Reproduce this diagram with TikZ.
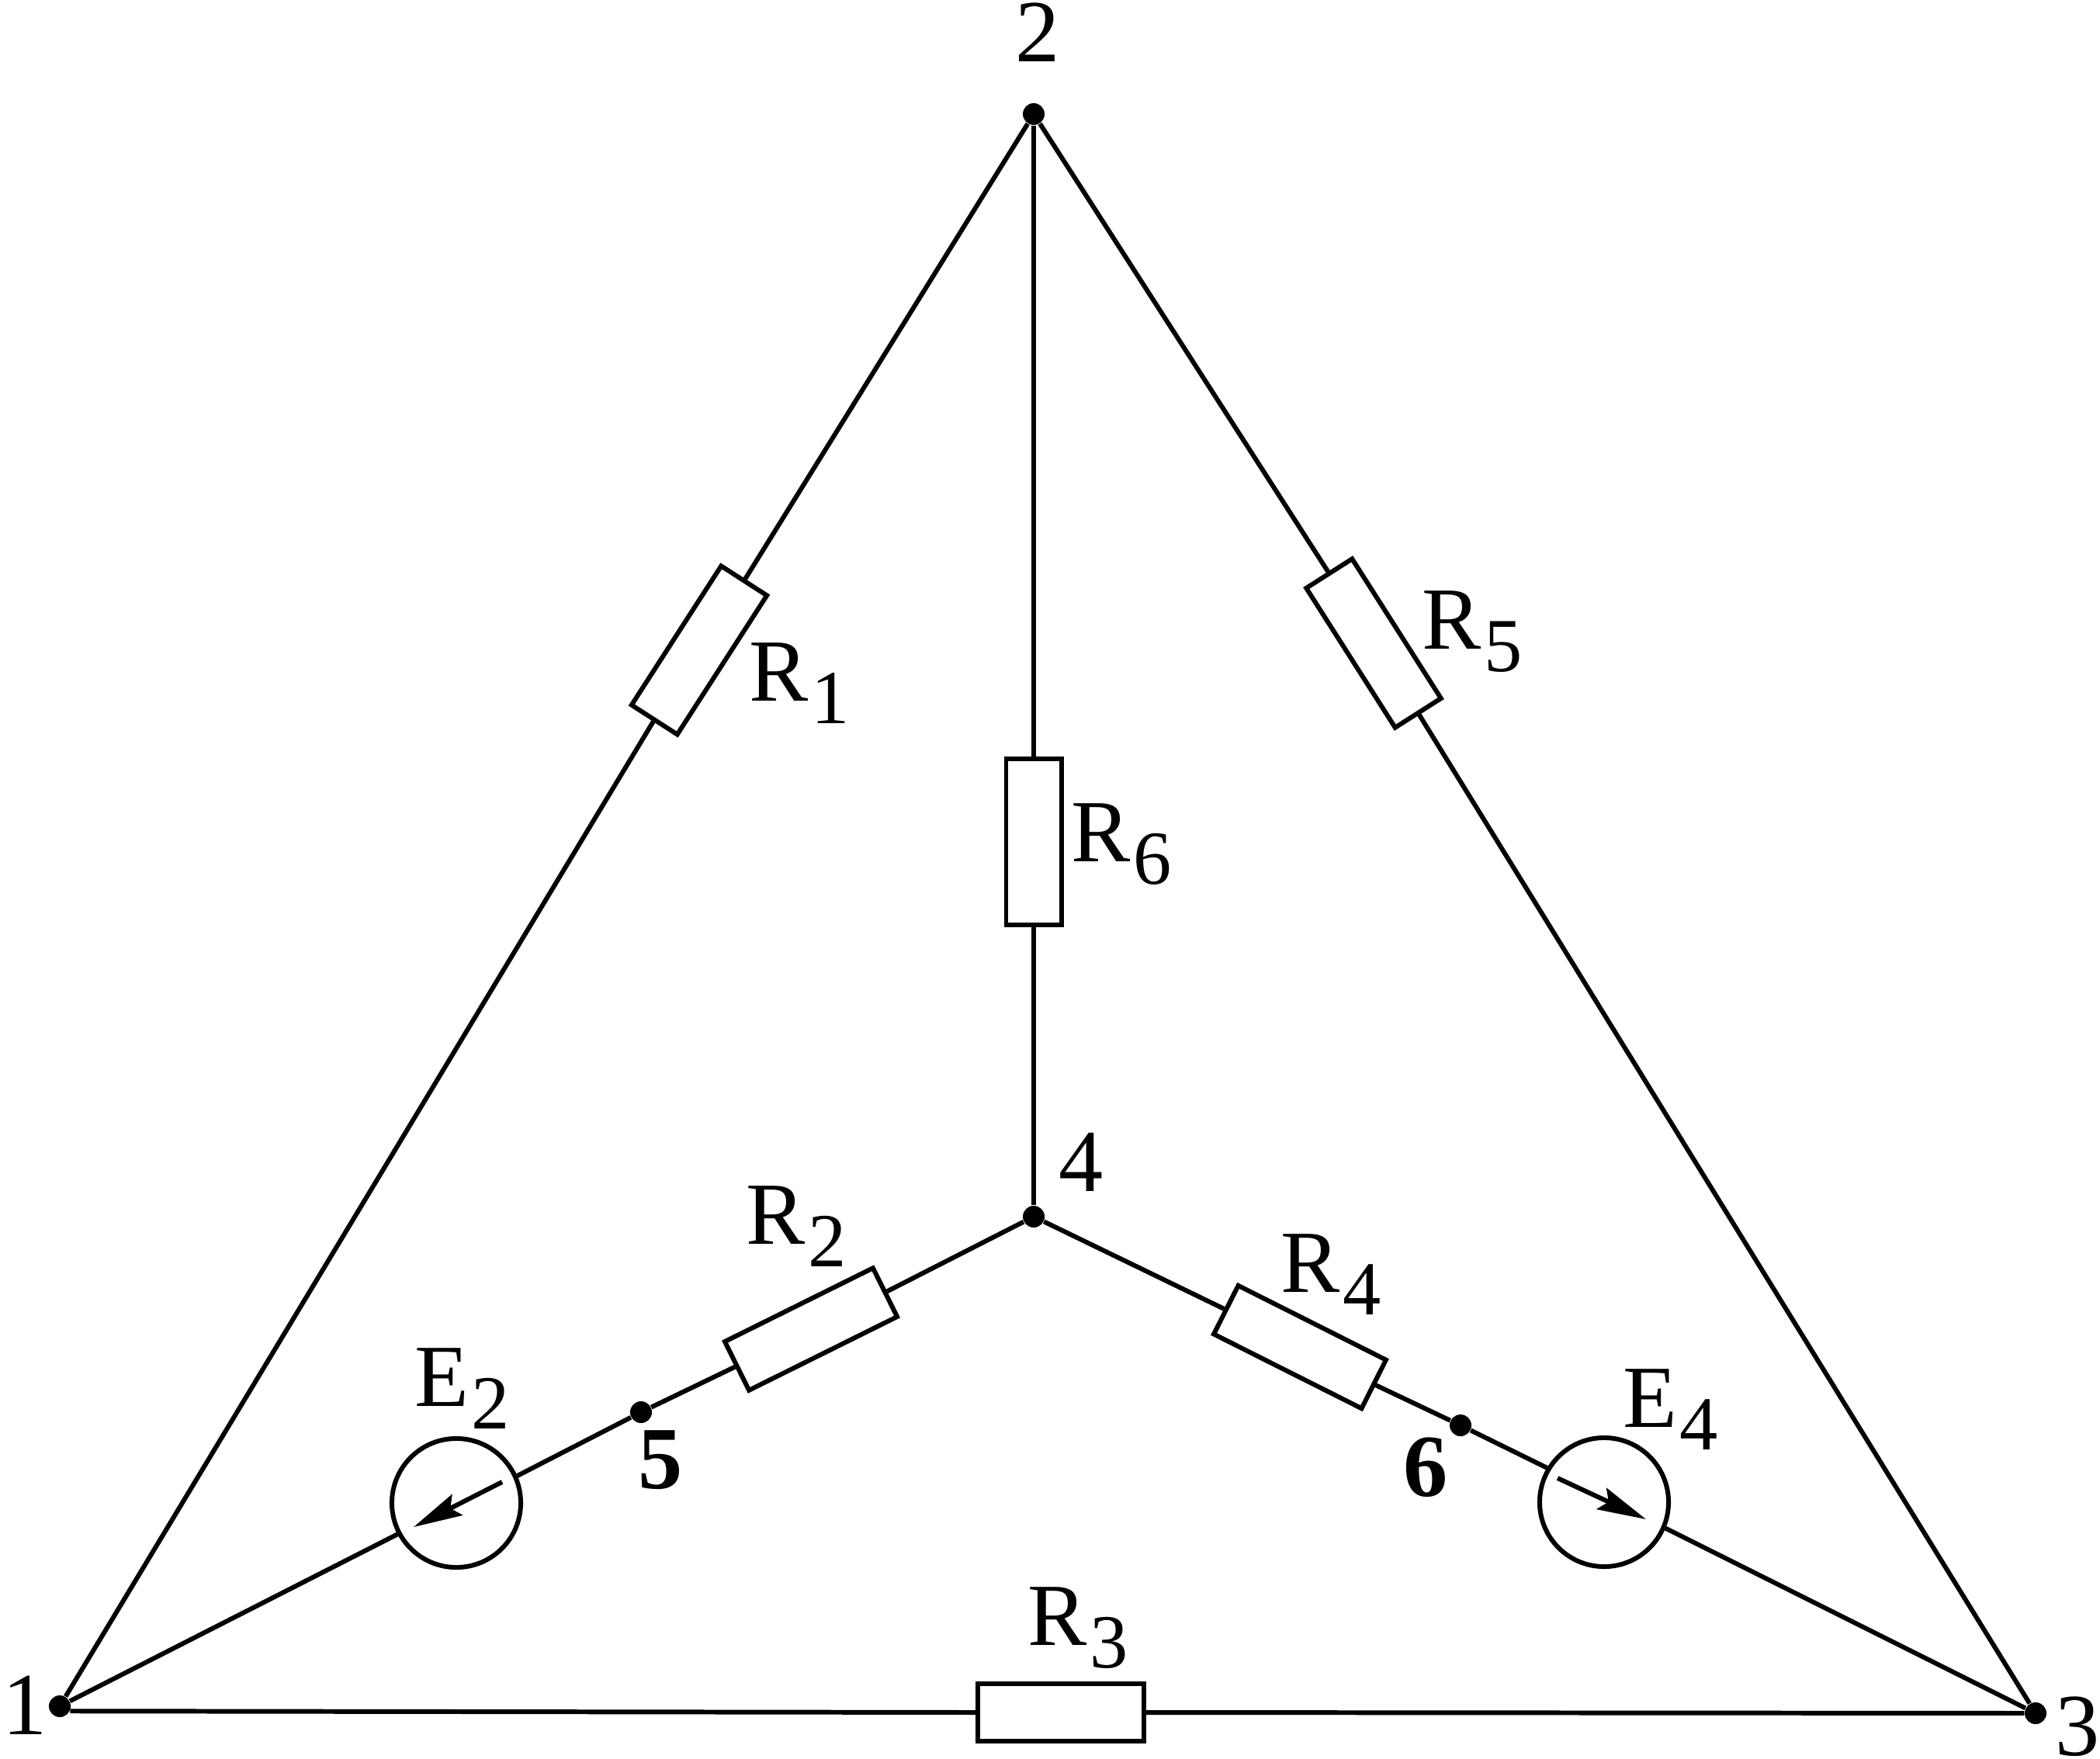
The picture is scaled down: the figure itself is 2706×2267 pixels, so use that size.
\documentclass[tikz,border=0pt]{standalone}
\usepackage{fontspec}
\setmainfont{Liberation Serif}
\usetikzlibrary{arrows.meta}

\newcommand{\subscr}[2]{#1\kern0.03em\raisebox{-0.26em}{\fontsize{28}{30}\selectfont #2}}

\tikzset{
    wire/.style={line width=1.7pt},
    res/.style={draw, line width=1.7pt, fill=white, minimum width=2.13cm, minimum height=0.70cm, inner sep=0pt},
    emf/.style={draw, circle, line width=1.7pt, fill=white, minimum size=1.66cm, inner sep=0pt},
    junction/.style={circle, fill=black, minimum size=0.28cm, inner sep=0pt},
    lbl/.style={anchor=base west, inner sep=0pt, font=\fontsize{32.5}{36}\selectfont},
    boldlbl/.style={lbl, font=\fontsize{32.5}{36}\selectfont\bfseries}
}

\begin{document}
\begin{tikzpicture}[x=0.01cm, y=-0.01cm]
        \useasboundingbox (0,0) rectangle (2706,2267);

        \node[junction] (n1) at (77, 2199) {};
        \node[junction] (n2) at (1332, 147) {};
        \node[junction] (n3) at (2623, 2208) {};
        \node[junction] (n4) at (1332, 1568) {};
        \node[junction] (n5) at (826, 1820) {};
        \node[junction] (n6) at (1882, 1837) {};

        \node[res, rotate=57.2] (r1) at (901, 838) {};
        \node[res, rotate=26.4] (r2) at (1045, 1713) {};
        \node[res, minimum height=0.74cm] (r3) at (1367, 2207) {};
        \node[res, rotate=-26.7] (r4) at (1675, 1736) {};
        \node[res, rotate=-57.5] (r5) at (1770, 829) {};
        \node[res, rotate=90, minimum height=0.71cm] (r6) at (1332, 1085) {};

        \node[emf] (e2) at (588, 1937) {};
        \node[emf] (e4) at (2067, 1936) {};

        % outer triangle
        \draw[wire] (n1) -- (r1.west);
        \draw[wire] (r1.east) -- (n2);
        \draw[wire] (n2) -- (r5.west);
        \draw[wire] (r5.east) -- (n3);
        \draw[wire] (n1.-25) -- (r3.west);
        \draw[wire] (r3.east) -- (n3);

        % star
        \draw[wire] (n2) -- (r6.east);
        \draw[wire] (r6.west) -- (n4);
        \draw[wire] (n4) -- (r2.east);
        \draw[wire] (r2.west) -- (n5);
        \draw[wire] (n5) -- (e2.24);
        \draw[wire] (e2.208.7) -- (n1);
        \draw[wire] (n4) -- (r4.west);
        \draw[wire] (r4.east) -- (n6);
        \draw[wire] (n6) -- (e4.149);
        \draw[wire] (e4.-23.5) -- (n3);

        % source arrows
        \coordinate (e2from) at (647, 1910);
        \coordinate (e2to) at (533, 1968);
        \coordinate (e4from) at (2007, 1905);
        \coordinate (e4to) at (2121, 1958);
        \draw[wire, -{Stealth[length=0.63cm, width=0.30cm, inset=0.10cm]}] (e2from) -- (e2to);
        \draw[wire, -{Stealth[length=0.63cm, width=0.30cm, inset=0.10cm]}] (e4from) -- (e4to);

        \node[lbl] (lr1) at (965, 903) {\subscr{R}{1}};
        \node[lbl] (lr2) at (961, 1603) {\subscr{R}{2}};
        \node[lbl] (lr3) at (1324, 2120) {\subscr{R}{3}};
        \node[lbl] (lr4) at (1650, 1665) {\subscr{R}{4}};
        \node[lbl] (lr5) at (1832, 836) {\subscr{R}{5}};
        \node[lbl] (lr6) at (1380, 1110) {\subscr{R}{6}};
        \node[lbl] (le2) at (534, 1812) {\subscr{E}{2}};
        \node[lbl] (le4) at (2091, 1839) {\subscr{E}{4}};

        \node[lbl] (l1) at (3, 2235) {1};
        \node[lbl] (l2) at (1308, 80) {2};
        \node[lbl] (l3) at (2648, 2262) {3};
        \node[lbl] (l4) at (1364, 1535) {4};
        \node[boldlbl] (l5) at (822, 1918) {5};
        \node[boldlbl] (l6) at (1808, 1928) {6};
    \end{tikzpicture}
\end{document}
